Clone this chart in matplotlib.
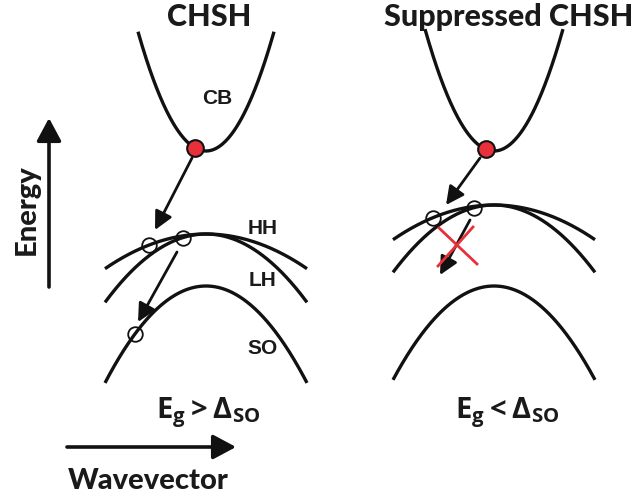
import numpy as np
import matplotlib
matplotlib.use("Agg")
import matplotlib.pyplot as plt
from matplotlib.patches import FancyArrowPatch, ArrowStyle

plt.rcParams['mathtext.fontset'] = 'custom'
plt.rcParams['mathtext.rm'] = 'Open Sans'
plt.rcParams['mathtext.bf'] = 'Open Sans:bold'

# ---------------- data (schematic, pixel-like units; y grows downward) -------
panel_titles = ['CHSH', 'Suppressed CHSH']
title_x = [209, 509]
gamma_k = [206, 494]              # Gamma point position of each panel
cb_min = [151, 151]               # conduction band minimum
cb_curv = [0.0258, 0.0256]
cb_half = [68, 69]
hh_top = [234, 205]               # heavy hole band maximum
lh_top = [234, 205]               # light hole band maximum
so_top = [286, 286]               # split-off band maximum
hh_curv = [0.0034, 0.0034]
lh_curv = [0.0067, 0.0066]
so_curv = [0.0095, 0.0092]
vb_half = [101, 101]

electron_k = [195, 486]
hole_band = [['HH', 'LH', 'SO'], ['HH', 'LH']]
hole_k = [[149, 183, 135], [433, 474]]

transition_start = [[(192, 158), (177, 252)], [(480, 158), (470, 220)]]
transition_end = [[(155, 230), (138, 322)], [(446, 205), (440, 275)]]

cross_lines = [((439, 228), (477, 264)), ((473, 227), (438, 266))]

band_labels = ['CB', 'HH', 'LH', 'SO']
band_label_pos = [(217, 98), (263, 228), (262, 281), (263, 349)]

gap_labels = [r'$\mathbf{E_g > \Delta_{SO}}$', r'$\mathbf{E_g < \Delta_{SO}}$']
gap_label_x = [208, 507]

energy_axis = ((49, 287), (49, 118))
k_axis = ((67, 447), (236, 447))

# ---------------- figure --------------------------------------------------------
fig = plt.figure(figsize=(6.34, 5.01), dpi=100)
ax = fig.add_axes([0, 0, 1, 1])
ax.set_xlim(0, 634)
ax.set_ylim(501, 0)
ax.axis('off')

lw = 2.4
col = '#111111'
red = '#e8303a'
txt = '#1a1a1a'

for p in range(2):
    g = gamma_k[p]
    # conduction band
    k = np.linspace(-cb_half[p], cb_half[p], 200)
    ax.plot(g + k, cb_min[p] - cb_curv[p] * k ** 2, color=col, lw=lw,
            solid_capstyle='butt')
    # valence bands
    k = np.linspace(-vb_half[p], vb_half[p], 300)
    tops = {'HH': (hh_top[p], hh_curv[p]), 'LH': (lh_top[p], lh_curv[p]),
            'SO': (so_top[p], so_curv[p])}
    for name, (t, c) in tops.items():
        ax.plot(g + k, t + c * k ** 2, color=col, lw=lw, solid_capstyle='butt')
    # title
    ax.text(title_x[p], 17, panel_titles[p], ha='center', va='center',
            fontsize=22, fontweight='black', family='Lato', color=txt)
    # transitions
    for s, e in zip(transition_start[p], transition_end[p]):
        ar = FancyArrowPatch(s, e, arrowstyle=ArrowStyle('-|>', head_length=11,
                                                         head_width=5.5),
                             mutation_scale=1, lw=2.0, color=col,
                             shrinkA=0, shrinkB=0, zorder=3)
        ax.add_patch(ar)
    # electron
    ek = electron_k[p] - g
    ax.plot(electron_k[p], cb_min[p] - cb_curv[p] * ek ** 2, 'o',
            ms=12, mfc=red, mec=col, mew=1.5, zorder=5)
    # holes
    for name, kk in zip(hole_band[p], hole_k[p]):
        t, c = tops[name]
        ax.plot(kk, t + c * (kk - g) ** 2, 'o', ms=10.5, mfc='none',
                mec=col, mew=1.3, zorder=5)
    # gap relation label
    ax.text(gap_label_x[p], 413, gap_labels[p], ha='center', va='center',
            fontsize=21, color=txt)

# forbidden transition cross
for (x0, y0), (x1, y1) in cross_lines:
    ax.plot([x0, x1], [y0, y1], color=red, lw=2.0, zorder=4)

# band labels
for lab, (x, y) in zip(band_labels, band_label_pos):
    ax.text(x, y, lab, ha='center', va='center', fontsize=15,
            fontweight='bold', family='Liberation Sans', color=txt)

# axes arrows
for s, e in (energy_axis, k_axis):
    ar = FancyArrowPatch(s, e, arrowstyle=ArrowStyle('-|>', head_length=14,
                                                     head_width=7.5),
                         mutation_scale=1, lw=2.6, color=col,
                         shrinkA=0, shrinkB=0)
    ax.add_patch(ar)

ax.text(27, 210, 'Energy', rotation=90, ha='center', va='center',
        fontsize=21, fontweight='black', family='Lato', color=txt)
ax.text(148, 481, 'Wavevector', ha='center', va='center',
        fontsize=21, fontweight='black', family='Lato', color=txt)

fig.savefig('out.png', dpi=100)
